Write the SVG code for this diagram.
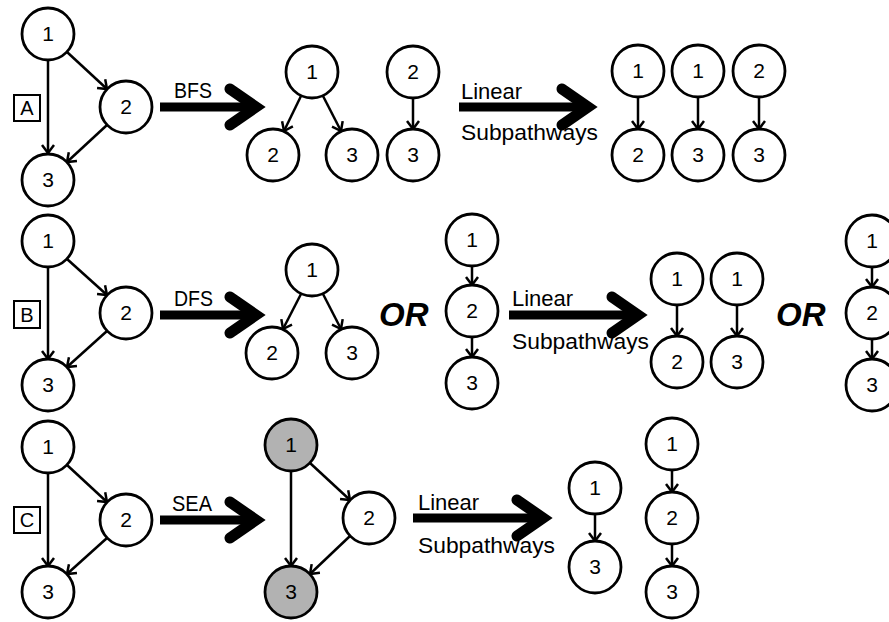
<svg xmlns="http://www.w3.org/2000/svg" width="889" height="622" viewBox="0 0 889 622">
<style>
.n circle{fill:#fff;stroke:#000;stroke-width:2.8}
.n circle.g{fill:#b2b2b2}
.n text{font-family:"Liberation Sans",Arial,sans-serif;font-size:21px;text-anchor:middle;fill:#000}
.e{stroke:#000;stroke-width:2.5;fill:none;marker-end:url(#ah)}
.big{stroke:#000;stroke-width:9;fill:none}
.head{stroke:#000;stroke-width:11;fill:none;stroke-linecap:round;stroke-linejoin:miter;stroke-miterlimit:10}
.lbl{font-family:"Liberation Sans",Arial,sans-serif;font-size:22px;fill:#000}
.or{font-family:"Liberation Sans",Arial,sans-serif;font-size:33px;font-weight:bold;font-style:italic;fill:#000}
.box{fill:#fff;stroke:#000;stroke-width:2}
.boxt{font-family:"Liberation Sans",Arial,sans-serif;font-size:20px;text-anchor:middle;fill:#000}
</style>
<defs>
<marker id="ah" viewBox="-10 -8 12 16" refX="0" refY="0" markerWidth="12" markerHeight="16" markerUnits="userSpaceOnUse" orient="auto">
<path d="M-8,-6 L0,0 L-8,6" fill="none" stroke="#000" stroke-width="2.5"/>
</marker>
</defs>

<g id="connectors">
<line class="e" x1="48" y1="60" x2="48" y2="153"/>
<line class="e" x1="67" y1="52" x2="107" y2="89"/>
<line class="e" x1="107" y1="125" x2="67" y2="162"/>
<line class="e" x1="301" y1="96" x2="284" y2="131"/>
<line class="e" x1="323" y1="96" x2="341" y2="131"/>
<line class="e" x1="413" y1="98" x2="413" y2="129"/>
<line class="e" x1="638" y1="97" x2="638" y2="129"/>
<line class="e" x1="698" y1="97" x2="698" y2="129"/>
<line class="e" x1="759" y1="97" x2="759" y2="129"/>
<line class="e" x1="48" y1="267" x2="48" y2="359"/>
<line class="e" x1="67" y1="259" x2="107" y2="295"/>
<line class="e" x1="107" y1="331" x2="67" y2="367"/>
<line class="e" x1="301" y1="294" x2="283" y2="329"/>
<line class="e" x1="323" y1="294" x2="341" y2="329"/>
<line class="e" x1="472" y1="266" x2="472" y2="285"/>
<line class="e" x1="472" y1="337" x2="472" y2="357"/>
<line class="e" x1="677" y1="305" x2="677" y2="336"/>
<line class="e" x1="737" y1="305" x2="737" y2="336"/>
<line class="e" x1="872" y1="267" x2="872" y2="287"/>
<line class="e" x1="872" y1="339" x2="872" y2="359"/>
<line class="e" x1="48" y1="473" x2="48" y2="566"/>
<line class="e" x1="67" y1="465" x2="107" y2="502"/>
<line class="e" x1="107" y1="538" x2="67" y2="574"/>
<line class="e" x1="291" y1="471" x2="291" y2="566"/>
<line class="e" x1="310" y1="463" x2="350" y2="500"/>
<line class="e" x1="350" y1="536" x2="310" y2="574"/>
<line class="e" x1="595" y1="514" x2="595" y2="541"/>
<line class="e" x1="672" y1="470" x2="672" y2="492"/>
<line class="e" x1="672" y1="544" x2="672" y2="566"/>

<line class="big" x1="160" y1="107" x2="255" y2="107"/>
<path class="head" d="M230,89 L256,107 L230,125"/>
<line class="big" x1="459" y1="107" x2="585" y2="107"/>
<path class="head" d="M562,89 L588,107 L562,125"/>
<line class="big" x1="160" y1="315" x2="255" y2="315"/>
<path class="head" d="M230,297 L256,315 L230,333"/>
<line class="big" x1="509" y1="315" x2="635" y2="315"/>
<path class="head" d="M612,297 L638,315 L612,333"/>
<line class="big" x1="160" y1="520" x2="255" y2="520"/>
<path class="head" d="M230,502 L256,520 L230,538"/>
<line class="big" x1="413" y1="518" x2="540" y2="518"/>
<path class="head" d="M517,500 L543,518 L517,536"/>
</g>

<g id="labels">
<text class="lbl" x="174" y="98" textLength="38" lengthAdjust="spacingAndGlyphs">BFS</text>
<text class="lbl" x="461" y="99">Linear</text>
<text class="lbl" x="461" y="140" textLength="137" lengthAdjust="spacingAndGlyphs">Subpathways</text>
<text class="lbl" x="174" y="306" textLength="39" lengthAdjust="spacingAndGlyphs">DFS</text>
<text class="lbl" x="512" y="306">Linear</text>
<text class="lbl" x="512" y="349" textLength="137" lengthAdjust="spacingAndGlyphs">Subpathways</text>
<text class="or" x="379" y="326">OR</text>
<text class="or" x="776" y="326">OR</text>
<text class="lbl" x="172" y="511" textLength="40" lengthAdjust="spacingAndGlyphs">SEA</text>
<text class="lbl" x="418" y="510">Linear</text>
<text class="lbl" x="418" y="553" textLength="137" lengthAdjust="spacingAndGlyphs">Subpathways</text>
</g>

<g id="boxA"><rect class="box" x="14" y="95" width="26" height="26"/><text class="boxt" x="27" y="115">A</text></g>
<g id="boxB"><rect class="box" x="14" y="301" width="26" height="27"/><text class="boxt" x="27" y="322">B</text></g>
<g id="boxC"><rect class="box" x="14" y="507" width="26" height="26"/><text class="boxt" x="27" y="527">C</text></g>

<g class="n">
<g id="a1"><circle cx="48" cy="34" r="26"/><text x="48" y="41">1</text></g>
<g id="a2"><circle cx="126" cy="107" r="26"/><text x="126" y="114">2</text></g>
<g id="a3"><circle cx="48" cy="180" r="26"/><text x="48" y="187">3</text></g>
<g id="at1"><circle cx="312" cy="72" r="26"/><text x="312" y="79">1</text></g>
<g id="at2"><circle cx="273" cy="155" r="26"/><text x="273" y="162">2</text></g>
<g id="at3"><circle cx="352" cy="155" r="26"/><text x="352" y="162">3</text></g>
<g id="as2"><circle cx="413" cy="72" r="26"/><text x="413" y="79">2</text></g>
<g id="as3"><circle cx="413" cy="155" r="26"/><text x="413" y="162">3</text></g>
<g id="al1"><circle cx="638" cy="71" r="26"/><text x="638" y="78">1</text></g>
<g id="al2"><circle cx="638" cy="155" r="26"/><text x="638" y="162">2</text></g>
<g id="al3"><circle cx="698" cy="71" r="26"/><text x="698" y="78">1</text></g>
<g id="al4"><circle cx="698" cy="155" r="26"/><text x="698" y="162">3</text></g>
<g id="al5"><circle cx="759" cy="71" r="26"/><text x="759" y="78">2</text></g>
<g id="al6"><circle cx="759" cy="155" r="26"/><text x="759" y="162">3</text></g>

<g id="b1"><circle cx="48" cy="241" r="26"/><text x="48" y="248">1</text></g>
<g id="b2"><circle cx="126" cy="313" r="26"/><text x="126" y="320">2</text></g>
<g id="b3"><circle cx="48" cy="385" r="26"/><text x="48" y="392">3</text></g>
<g id="bt1"><circle cx="312" cy="270" r="26"/><text x="312" y="277">1</text></g>
<g id="bt2"><circle cx="272" cy="353" r="26"/><text x="272" y="360">2</text></g>
<g id="bt3"><circle cx="352" cy="353" r="26"/><text x="352" y="360">3</text></g>
<g id="bc1"><circle cx="472" cy="240" r="26"/><text x="472" y="247">1</text></g>
<g id="bc2"><circle cx="472" cy="311" r="26"/><text x="472" y="318">2</text></g>
<g id="bc3"><circle cx="472" cy="383" r="26"/><text x="472" y="390">3</text></g>
<g id="bl1"><circle cx="677" cy="279" r="26"/><text x="677" y="286">1</text></g>
<g id="bl2"><circle cx="677" cy="362" r="26"/><text x="677" y="369">2</text></g>
<g id="bl3"><circle cx="737" cy="279" r="26"/><text x="737" y="286">1</text></g>
<g id="bl4"><circle cx="737" cy="362" r="26"/><text x="737" y="369">3</text></g>
<g id="br1"><circle cx="872" cy="241" r="26"/><text x="872" y="248">1</text></g>
<g id="br2"><circle cx="872" cy="313" r="26"/><text x="872" y="320">2</text></g>
<g id="br3"><circle cx="872" cy="385" r="26"/><text x="872" y="392">3</text></g>

<g id="c1"><circle cx="48" cy="447" r="26"/><text x="48" y="454">1</text></g>
<g id="c2"><circle cx="126" cy="520" r="26"/><text x="126" y="527">2</text></g>
<g id="c3"><circle cx="48" cy="592" r="26"/><text x="48" y="599">3</text></g>
<g id="cs1"><circle class="g" cx="291" cy="445" r="26"/><text x="291" y="452">1</text></g>
<g id="cs2"><circle cx="369" cy="518" r="26"/><text x="369" y="525">2</text></g>
<g id="cs3"><circle class="g" cx="291" cy="592" r="26"/><text x="291" y="599">3</text></g>
<g id="cl1"><circle cx="595" cy="488" r="26"/><text x="595" y="495">1</text></g>
<g id="cl2"><circle cx="595" cy="567" r="26"/><text x="595" y="574">3</text></g>
<g id="cc1"><circle cx="672" cy="444" r="26"/><text x="672" y="451">1</text></g>
<g id="cc2"><circle cx="672" cy="518" r="26"/><text x="672" y="525">2</text></g>
<g id="cc3"><circle cx="672" cy="592" r="26"/><text x="672" y="599">3</text></g>
</g>
</svg>
